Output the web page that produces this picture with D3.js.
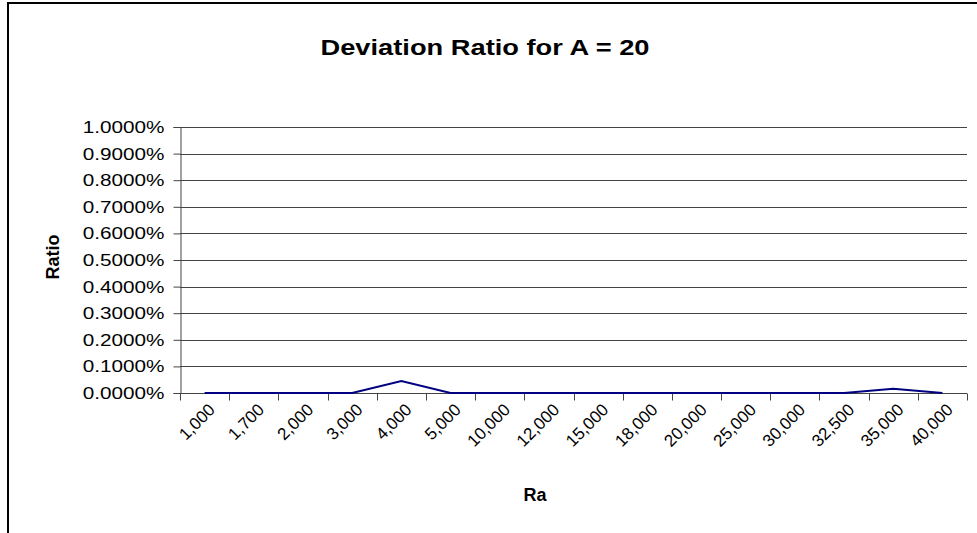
<!DOCTYPE html>
<html>
<head>
<meta charset="utf-8">
<script src="https://cdn.jsdelivr.net/npm/d3@7"></script>
<style>
  html, body { margin: 0; padding: 0; background: #fff; }
  svg { display: block; font-family: "Liberation Sans", Arial, sans-serif; }
</style>
</head>
<body>
<svg id="chart" width="977" height="533"></svg>
<script>
const categories = ["1,000", "1,700", "2,000", "3,000", "4,000", "5,000", "10,000", "12,000",
                    "15,000", "18,000", "20,000", "25,000", "30,000", "32,500", "35,000", "40,000"];
const ratioValues = [0, 0, 0, 0, 0.00045, 0, 0, 0, 0, 0, 0, 0, 0, 0, 0.00016, 0];
const yTicks = [0, 0.001, 0.002, 0.003, 0.004, 0.005, 0.006, 0.007, 0.008, 0.009, 0.010];
const titleText = "Deviation Ratio for A = 20";
const xTitle = "Ra";
const yTitle = "Ratio";

const svg = d3.select("#chart");
const plot = { left: 180, right: 967, top: 127, bottom: 393 };
const FONT = "'Liberation Sans', Arial, sans-serif";

// outer frame
svg.append("rect")
  .attr("x", 8).attr("y", 3)
  .attr("width", 990).attr("height", 560)
  .attr("fill", "#fff").attr("stroke", "#000").attr("stroke-width", 2);

const x = d3.scaleBand().domain(categories).range([plot.left, plot.right]).padding(0);
const y = d3.scaleLinear().domain([0, 0.010]).range([plot.bottom, plot.top]);

// gridlines
svg.append("g")
  .selectAll("line")
  .data(yTicks.slice(1))
  .join("line")
  .attr("x1", plot.left).attr("x2", plot.right)
  .attr("y1", d => Math.round(y(d)) + 0.5).attr("y2", d => Math.round(y(d)) + 0.5)
  .attr("stroke", "#444").attr("stroke-width", 1);

// y axis
const ySX = 1.22;
const yAxis = d3.axisLeft(y).tickValues(yTicks).tickSize(7).tickPadding(9)
  .tickFormat(d => (d * 100).toFixed(4) + "%");
const gy = svg.append("g").attr("transform", `translate(${plot.left + 0.5},0)`).call(yAxis);
gy.select(".domain").attr("stroke", "#444");
gy.selectAll(".tick line").attr("stroke", "#444");
gy.selectAll(".tick text")
  .attr("font-size", 17).attr("fill", "#000").attr("font-family", FONT)
  .attr("x", -16 / ySX)
  .attr("transform", `scale(${ySX},1)`);

// x axis (ticks at category boundaries)
const boundaries = categories.map(c => x(c)).concat([plot.right]);
const gx = svg.append("g").attr("transform", `translate(0,${plot.bottom + 0.5})`);
gx.append("line").attr("x1", plot.left).attr("x2", plot.right).attr("y1", 0).attr("y2", 0)
  .attr("stroke", "#444");
gx.selectAll("line.tk").data(boundaries).join("line").attr("class", "tk")
  .attr("x1", d => Math.round(d) + 0.5).attr("x2", d => Math.round(d) + 0.5)
  .attr("y1", 0).attr("y2", 7).attr("stroke", "#444");
gx.selectAll("text.lbl").data(categories).join("text").attr("class", "lbl")
  .attr("transform", d => `translate(${x(d) + x.bandwidth() / 2 + 3},${9}) rotate(-45)`)
  .attr("text-anchor", "end")
  .attr("dy", "0.7em")
  .attr("font-size", 17)
  .attr("fill", "#000")
  .text(d => d);

// line
const line = d3.line()
  .x((d, i) => x(categories[i]) + x.bandwidth() / 2)
  .y(d => y(d));
svg.append("path").datum(ratioValues)
  .attr("d", line)
  .attr("fill", "none")
  .attr("stroke", "#000080")
  .attr("stroke-width", 2.2);

// titles
const tSX = 1.24;
svg.append("text").attr("x", 485 / tSX).attr("y", 55).attr("text-anchor", "middle")
  .attr("transform", `scale(${tSX},1)`)
  .attr("font-size", 22).attr("font-weight", "bold")
  .text(titleText);
svg.append("text").attr("x", 535).attr("y", 501).attr("text-anchor", "middle")
  .attr("font-size", 18).attr("font-weight", "bold").text(xTitle);
svg.append("text").attr("transform", "translate(59,257) rotate(-90)").attr("text-anchor", "middle")
  .attr("font-size", 18).attr("font-weight", "bold").text(yTitle);
</script>
</body>
</html>
